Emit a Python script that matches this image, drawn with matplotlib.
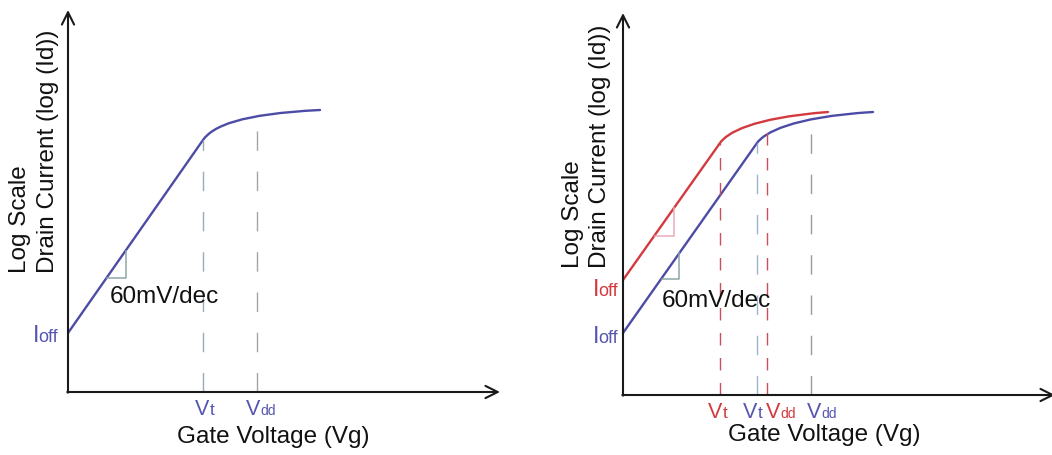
import matplotlib
matplotlib.use("Agg")
import matplotlib.pyplot as plt
from matplotlib.path import Path
from matplotlib.patches import PathPatch

plt.rcParams['font.family'] = ['Liberation Sans', 'DejaVu Sans']
plt.rcParams['lines.scale_dashes'] = False

# ---------------- data (arbitrary units) ----------------
# Each curve: straight sub-threshold part (start -> knee), then a smooth
# saturating part given by its Bezier control points (knee, c1, c2, end).
# Left panel: single device
left_linear_vg = [0, 135]
left_linear_logid = [59, 252]
left_knee_vg = [135, 145, 172, 252]
left_knee_logid = [252, 266, 278, 282]
left_vt = 135
left_vdd = 189
left_vt_top = 252
left_vdd_top = 274
left_tri_x = [39, 58, 58]
left_tri_y = [114, 114, 141]

# Right panel: two devices (red = lower Vt, blue = original)
red_linear_vg = [0, 97]
red_linear_logid = [115, 252]
red_knee_vg = [97, 104, 128, 205]
red_knee_logid = [252, 262, 277, 283]
blue_linear_vg = [0, 134]
blue_linear_logid = [62, 252]
blue_knee_vg = [134, 141, 168, 250]
blue_knee_logid = [252, 262, 278, 283]
red_vt, red_vdd = 97, 144
blue_vt, blue_vdd = 134, 188
red_vt_top, red_vdd_top = 252, 274
blue_vt_top, blue_vdd_top = 252, 275
red_tri_x = [32, 51, 51]
red_tri_y = [159, 159, 187]
blue_tri_x = [39, 56, 56]
blue_tri_y = [116, 116, 142]

slope_label = "60mV/dec"
x_label = "Gate Voltage (Vg)"
y_label_1 = "Log Scale"
y_label_2 = "Drain Current (log (Id))"

# ---------------- styling ----------------
BLUE = '#4c4ca6'
BLUE_TXT = '#5656b2'
RED = '#d23a40'
FS = 17.5
VFS = 15.5

W, H = 1052, 455
fig = plt.figure(figsize=(W / 100, H / 100), dpi=100)

def make_axes(px0, px1, ox, oy):
    ax = fig.add_axes([px0 / W, 0, (px1 - px0) / W, 1])
    ax.set_xlim(px0 - ox, px1 - ox)
    ax.set_ylim(oy - H, oy)
    ax.axis('off')
    return ax

def draw_curve(ax, lin_x, lin_y, knee_x, knee_y, color):
    verts = list(zip(lin_x, lin_y)) + list(zip(knee_x[1:], knee_y[1:]))
    codes = [Path.MOVETO] + [Path.LINETO] * (len(lin_x) - 1) + [Path.CURVE4] * 3
    ax.add_patch(PathPatch(Path(verts, codes), facecolor='none',
                           edgecolor=color, lw=1.7, capstyle='round',
                           joinstyle='round'))

def axes_arrows(ax, xlen, ylen):
    ap = dict(arrowstyle='->', lw=1.5, color='#1a1a1a', shrinkA=0, shrinkB=0,
              mutation_scale=22)
    ax.annotate('', xy=(0, ylen), xytext=(0, -0.7), arrowprops=ap,
                annotation_clip=False)
    ax.annotate('', xy=(xlen, 0), xytext=(-0.7, 0), arrowprops=ap,
                annotation_clip=False)

def vlabel(ax, x, y, sub, color, subsize):
    ax.text(x, y, "V", color=color, fontsize=VFS, ha='left', va='baseline')
    ax.annotate(sub, xy=(x, y), xycoords='data',
                xytext=(0.667 * VFS + 0.3, 0), textcoords='offset points',
                color=color, fontsize=subsize, ha='left', va='baseline')

def ioff_label(ax, x, y, color):
    ax.text(x, y, "I", color=color, fontsize=17, ha='left', va='baseline')
    ax.annotate("off", xy=(x, y), xycoords='data',
                xytext=(0.278 * 17 - 0.8, 0), textcoords='offset points',
                color=color, fontsize=13, ha='left', va='baseline')

def ylabels(ax, x1, x2, ybot):
    ax.text(x1, ybot, y_label_1, rotation=90, fontsize=FS, ha='center',
            va='bottom', color='#111111')
    ax.text(x2, ybot, y_label_2, rotation=90, fontsize=FS, ha='center',
            va='bottom', color='#111111')

# ---------------- left panel ----------------
axL = make_axes(0, 526, 68, 392)
axL.plot([left_vt, left_vt], [0, left_vt_top], color='#9aaabb', lw=1.0,
         dashes=(14, 15))
axL.plot([left_vdd, left_vdd], [0, left_vdd_top], color='#a5a5a5', lw=1.0,
         dashes=(14, 15))
axL.plot(left_tri_x, left_tri_y, color='#8fa5aa', lw=1.1)
draw_curve(axL, left_linear_vg, left_linear_logid, left_knee_vg,
           left_knee_logid, BLUE)
axes_arrows(axL, 432, 382)
ioff_label(axL, -35, 50, BLUE_TXT)
axL.text(42, 89, slope_label, fontsize=FS, ha='left', va='baseline',
         color='#111111')
vlabel(axL, 127, -23, "t", BLUE_TXT, 12.5)
vlabel(axL, 178, -23, "dd", BLUE_TXT, 10)
axL.text(205, -51, x_label, fontsize=FS, ha='center', va='baseline',
         color='#111111')
ylabels(axL, -48, -20, 119)

# ---------------- right panel ----------------
axR = make_axes(526, 1052, 623, 395)
axR.plot([red_vt, red_vt], [0, red_vt_top], color='#c8505a', lw=1.0,
         dashes=(9, 9))
axR.plot([blue_vt, blue_vt], [0, blue_vt_top], color='#9fb4d0', lw=1.0,
         dashes=(14, 15))
axR.plot([red_vdd, red_vdd], [0, red_vdd_top], color='#c8505a', lw=1.0,
         dashes=(9, 9))
axR.plot([blue_vdd, blue_vdd], [0, blue_vdd_top], color='#9a9a9a', lw=1.0,
         dashes=(14, 15))
axR.plot(red_tri_x, red_tri_y, color='#e8aab8', lw=1.1)
axR.plot(blue_tri_x, blue_tri_y, color='#8fa5aa', lw=1.1)
draw_curve(axR, red_linear_vg, red_linear_logid, red_knee_vg,
           red_knee_logid, RED)
draw_curve(axR, blue_linear_vg, blue_linear_logid, blue_knee_vg,
           blue_knee_logid, BLUE)
axes_arrows(axR, 432, 382)
ioff_label(axR, -30, 99, RED)
ioff_label(axR, -30, 52, BLUE_TXT)
axR.text(39, 88, slope_label, fontsize=FS, ha='left', va='baseline',
         color='#111111')
vlabel(axR, 85, -23, "t", RED, 12.5)
vlabel(axR, 120, -23, "t", BLUE_TXT, 12.5)
vlabel(axR, 143, -23, "dd", RED, 10)
vlabel(axR, 184, -23, "dd", BLUE_TXT, 10)
axR.text(201, -46, x_label, fontsize=FS, ha='center', va='baseline',
         color='#111111')
ylabels(axR, -50, -23, 127)

fig.savefig("out.png", dpi=100, facecolor='white')
